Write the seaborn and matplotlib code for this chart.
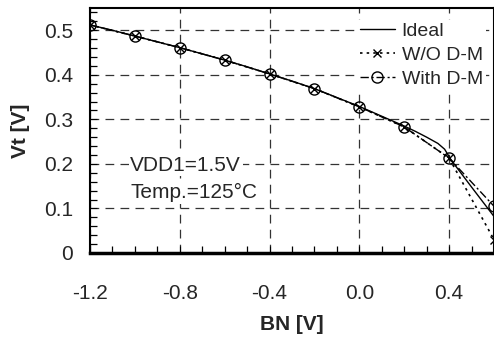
import matplotlib
matplotlib.use("Agg")
import matplotlib.pyplot as plt
from matplotlib.ticker import MultipleLocator, FixedLocator, FuncFormatter
import seaborn as sns
import pandas as pd

# ---- data ----
ideal_x = [-1.2, -1.1, -1.0, -0.9, -0.8, -0.7, -0.6, -0.5, -0.4, -0.3, -0.2, -0.1,
           0.0, 0.1, 0.2, 0.25, 0.3, 0.35, 0.38, 0.41, 0.5, 0.6]
ideal_y = [0.512, 0.500, 0.487, 0.474, 0.461, 0.447, 0.433, 0.418, 0.402, 0.386, 0.369, 0.349,
           0.329, 0.307, 0.285, 0.273, 0.260, 0.246, 0.233, 0.208, 0.148, 0.082]

bn = [-1.2, -1.0, -0.8, -0.6, -0.4, -0.2, 0.0, 0.2, 0.4, 0.6]
wo_dm = [0.512, 0.487, 0.461, 0.433, 0.402, 0.369, 0.328, 0.283, 0.213, 0.030]
with_dm = [0.512, 0.487, 0.461, 0.433, 0.402, 0.369, 0.328, 0.283, 0.213, 0.105]

x_ticks = [-1.2, -0.8, -0.4, 0.0, 0.4]
y_ticks = [0, 0.1, 0.2, 0.3, 0.4, 0.5]

sns.set_style("ticks")
plt.rcParams['font.family'] = ['Liberation Sans', 'DejaVu Sans']

FS = 15

fig = plt.figure(figsize=(4.94, 3.39), dpi=100)
ax = fig.add_axes([90/494, 1-253/339, 1-90/494, (253-8)/339])

df_ideal = pd.DataFrame({"x": ideal_x, "y": ideal_y})
df_wo = pd.DataFrame({"x": bn, "y": wo_dm})
df_with = pd.DataFrame({"x": bn, "y": with_dm})

sns.lineplot(data=df_ideal, x="x", y="y", ax=ax, color="black", lw=1.0, label="Ideal", zorder=4)
sns.lineplot(data=df_with, x="x", y="y", ax=ax, color="black", lw=1.0, linestyle=(0, (6, 2, 1.5, 2)),
             marker="o", markersize=8, markerfacecolor="none", markeredgewidth=1.0,
             markeredgecolor="black", label="With D-M", zorder=5)
sns.lineplot(data=df_wo, x="x", y="y", ax=ax, color="black", lw=1.2, linestyle=(0, (1.5, 2.5)),
             marker="x", markersize=5.5, markeredgewidth=1.0, markeredgecolor="black",
             label="W/O D-M", zorder=6)

ax.set_xlim(-1.2, 0.6)
ax.set_ylim(0, 0.55)
ax.xaxis.set_major_locator(FixedLocator(x_ticks))
ax.yaxis.set_major_locator(FixedLocator(y_ticks))
ax.xaxis.set_minor_locator(MultipleLocator(0.1))
ax.yaxis.set_minor_locator(MultipleLocator(0.02))
ax.xaxis.set_major_formatter(FuncFormatter(lambda v, p: f"{v:.1f}"))
ax.yaxis.set_major_formatter(FuncFormatter(lambda v, p: "0" if abs(v) < 1e-9 else f"{v:.1f}"))

ax.grid(True, which="major", color="#333333", linestyle=(0, (7, 5)), lw=0.9)
ax.tick_params(which="both", direction="in", labelsize=FS, color="black")
ax.tick_params(axis="x", which="major", length=5, pad=22)
ax.tick_params(axis="y", which="major", length=5, pad=12)
ax.tick_params(which="minor", length=5, width=0.9)

for s in ["left", "top", "right"]:
    ax.spines[s].set_linewidth(1.5)
ax.spines["bottom"].set_linewidth(2.5)
for s in ax.spines.values():
    s.set_color("black")

ax.set_xlabel("BN [V]", fontsize=FS, fontweight="bold", labelpad=9)
ax.set_ylabel("Vt [V]", fontsize=FS, fontweight="bold", labelpad=10)

handles, labels = ax.get_legend_handles_labels()
order = [labels.index(l) for l in ["Ideal", "W/O D-M", "With D-M"]]
leg = ax.legend([handles[i] for i in order], [labels[i] for i in order],
                loc="upper left", bbox_to_anchor=((355-90)/404, 0.96), frameon=True,
                facecolor="white", edgecolor="none", framealpha=1.0, fancybox=False,
                fontsize=14, handlelength=1.8, handletextpad=0.35, labelspacing=0.32,
                borderaxespad=0.1, borderpad=0.15)
leg.set_zorder(8)

bb = dict(facecolor="white", edgecolor="none", pad=1)
ax.text(-1.02, 0.197, "VDD1=1.5V", fontsize=FS, ha="left", va="center", bbox=bb, zorder=7)
ax.text(-1.02, 0.135, "Temp.=125°C", fontsize=FS, ha="left", va="center", bbox=bb, zorder=7)

fig.savefig("out.png", dpi=100)
